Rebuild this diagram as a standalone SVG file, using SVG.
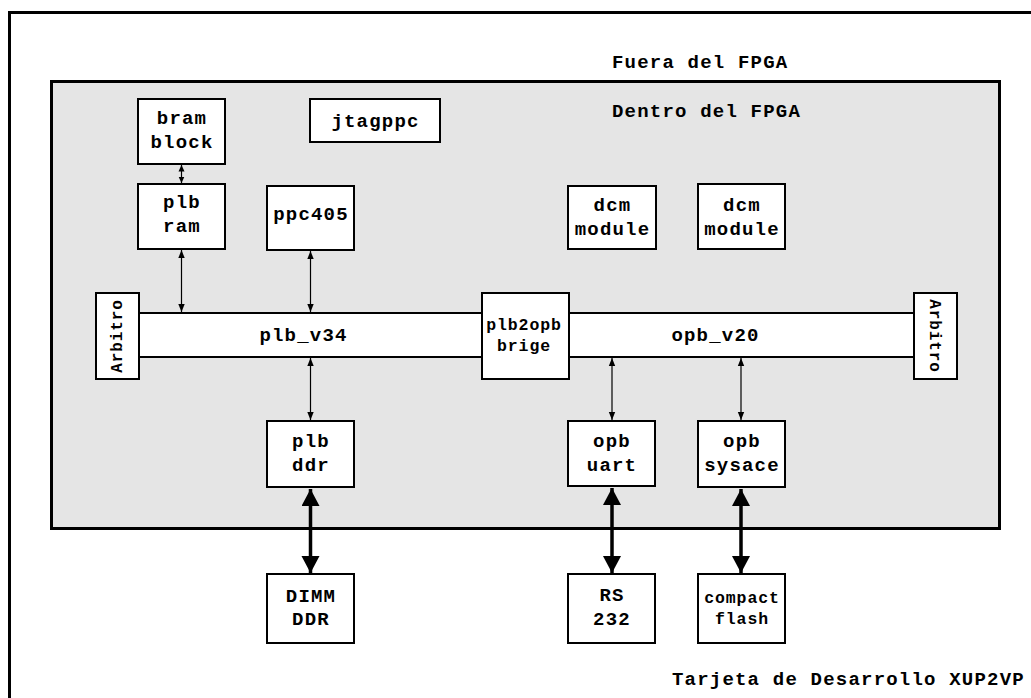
<svg xmlns="http://www.w3.org/2000/svg" width="1031" height="698" viewBox="0 0 1031 698">
<style>
.box{fill:#fff;stroke:#000;stroke-width:2}
.t{font-family:"Liberation Mono","Courier New",monospace;font-weight:bold;font-size:19px;letter-spacing:1.2px;fill:#000;text-anchor:middle}
.s{font-size:16.5px;letter-spacing:0.9px}
.a{font-size:16px;letter-spacing:0.9px}
.l{text-anchor:start}
.thin{stroke:#000;stroke-width:1.2;fill:none}
.thick{stroke:#000;stroke-width:3.5;fill:none}
</style>
<defs>
<marker id="ah" markerUnits="userSpaceOnUse" markerWidth="9" markerHeight="8" refX="8" refY="4" orient="auto-start-reverse">
<path d="M0,0.8 L8,4 L0,7.2 z" fill="#000"/>
</marker>
<marker id="ahs" markerUnits="userSpaceOnUse" markerWidth="8" markerHeight="8" refX="6.5" refY="4" orient="auto-start-reverse">
<path d="M0,1 L6.5,4 L0,7 z" fill="#000"/>
</marker>
<marker id="AH" markerUnits="userSpaceOnUse" markerWidth="19" markerHeight="19" refX="17" refY="9" orient="auto-start-reverse">
<path d="M0,0 L17,9 L0,18 z" fill="#000"/>
</marker>
</defs>
<rect width="1031" height="698" fill="#fff"/>
<g id="outer">
<rect x="9.5" y="12.5" width="1100" height="800" fill="#fff" stroke="#000" stroke-width="3"/>
<text class="t l" x="612" y="68">Fuera del FPGA</text>
<text class="t l" x="672" y="685">Tarjeta de Desarrollo XUP2VP</text>
</g>
<g id="fpga">
<rect x="51.5" y="81.5" width="948" height="447" fill="#e5e5e5" stroke="#000" stroke-width="3"/>
<text class="t l" x="612" y="117">Dentro del FPGA</text>
</g>
<g id="bram_block"><rect class="box" x="138" y="99" width="87" height="65"/><text class="t" x="182" y="124">bram</text><text class="t" x="182" y="148">block</text></g>
<g id="jtagppc"><rect class="box" x="310" y="99" width="130" height="43"/><text class="t" x="375.5" y="127">jtagppc</text></g>
<g id="plb_ram"><rect class="box" x="138" y="184" width="87" height="65"/><text class="t" x="182" y="208">plb</text><text class="t" x="182" y="232">ram</text></g>
<g id="ppc405"><rect class="box" x="267" y="186" width="87" height="64"/><text class="t" x="311" y="220">ppc405</text></g>
<g id="dcm1"><rect class="box" x="568" y="186" width="88" height="63"/><text class="t" x="612.5" y="211">dcm</text><text class="t" x="612.5" y="235">module</text></g>
<g id="dcm2"><rect class="box" x="698" y="184" width="87" height="65"/><text class="t" x="742" y="211">dcm</text><text class="t" x="742" y="235">module</text></g>
<g id="plb_v34"><rect class="box" x="139" y="313" width="343" height="44"/><text class="t" x="303.5" y="341">plb_v34</text></g>
<g id="opb_v20"><rect class="box" x="569" y="313" width="345" height="44"/><text class="t" x="715.5" y="341">opb_v20</text></g>
<g id="arbitro_l"><rect class="box" x="96" y="293" width="43" height="86"/><text class="t a" transform="translate(122,336) rotate(-90)">Arbitro</text></g>
<g id="arbitro_r"><rect class="box" x="914" y="293" width="43" height="86"/><text class="t a" transform="translate(929.5,336) rotate(90)">Arbitro</text></g>
<g id="plb2opb"><rect class="box" x="482" y="293" width="87" height="86"/><text class="t s" x="524" y="330">plb2opb</text><text class="t s" x="524" y="351">brige</text></g>
<g id="plb_ddr"><rect class="box" x="267" y="421" width="87" height="66"/><text class="t" x="311" y="447">plb</text><text class="t" x="311" y="471">ddr</text></g>
<g id="opb_uart"><rect class="box" x="568" y="421" width="87" height="65"/><text class="t" x="612" y="447">opb</text><text class="t" x="612" y="471">uart</text></g>
<g id="opb_sysace"><rect class="box" x="698" y="421" width="87" height="66"/><text class="t" x="742" y="447">opb</text><text class="t" x="742" y="471">sysace</text></g>
<g id="dimm_ddr"><rect class="box" x="267" y="574" width="87" height="69"/><text class="t" x="311" y="602">DIMM</text><text class="t" x="311" y="625">DDR</text></g>
<g id="rs232"><rect class="box" x="568" y="574" width="87" height="69"/><text class="t" x="612" y="601">RS</text><text class="t" x="612" y="625">232</text></g>
<g id="compact_flash"><rect class="box" x="698" y="574" width="87" height="69"/><text class="t s" x="742" y="603">compact</text><text class="t s" x="742" y="624">flash</text></g>
<g id="connectors">
<line class="thin" x1="181.5" y1="165" x2="181.5" y2="183" marker-start="url(#ahs)" marker-end="url(#ahs)"/>
<line class="thin" x1="181.5" y1="250" x2="181.5" y2="312" marker-start="url(#ah)" marker-end="url(#ah)"/>
<line class="thin" x1="310.5" y1="251" x2="310.5" y2="312" marker-start="url(#ah)" marker-end="url(#ah)"/>
<line class="thin" x1="310.5" y1="358" x2="310.5" y2="420" marker-start="url(#ah)" marker-end="url(#ah)"/>
<line class="thin" x1="612" y1="358" x2="612" y2="420" marker-start="url(#ah)" marker-end="url(#ah)"/>
<line class="thin" x1="741" y1="358" x2="741" y2="420" marker-start="url(#ah)" marker-end="url(#ah)"/>
<line class="thick" x1="310.5" y1="489" x2="310.5" y2="573" marker-start="url(#AH)" marker-end="url(#AH)"/>
<line class="thick" x1="612" y1="488" x2="612" y2="573" marker-start="url(#AH)" marker-end="url(#AH)"/>
<line class="thick" x1="741" y1="489" x2="741" y2="573" marker-start="url(#AH)" marker-end="url(#AH)"/>
</g>
</svg>
